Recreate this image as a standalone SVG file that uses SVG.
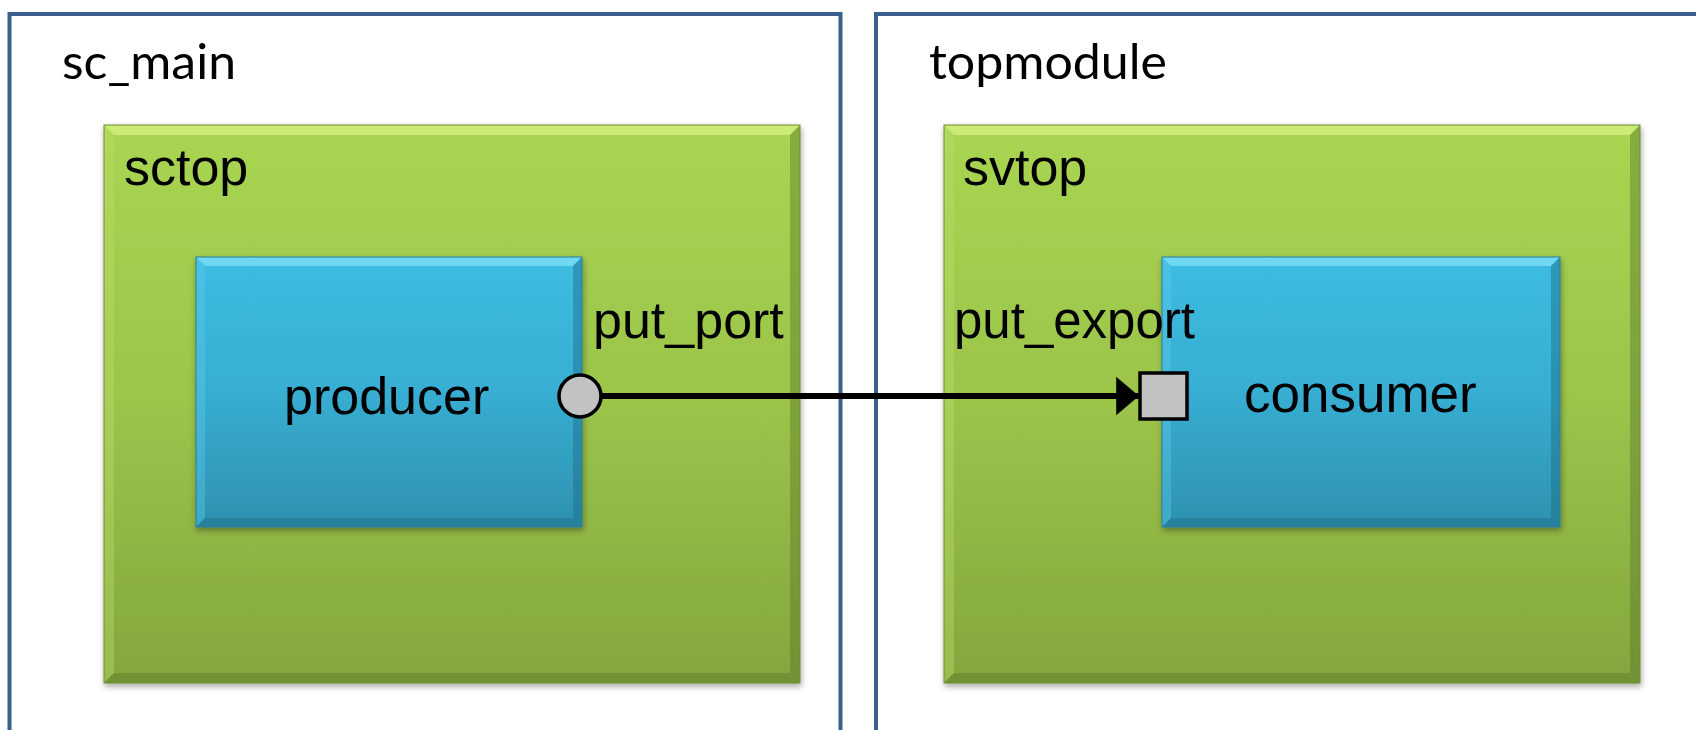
<svg xmlns="http://www.w3.org/2000/svg" width="1696" height="730" viewBox="0 0 1696 730">
  <style>
    .frame { fill: #ffffff; stroke: #3B5F8E; stroke-width: 4; }
    .title { font-family: Lato, "Open Sans", sans-serif; font-size: 48px; font-weight: 400; fill: #000; }
    .lbl { font-family: "Liberation Sans", Arial, sans-serif; font-size: 52px; fill: #000; }
    .green { fill: url(#gGreen); }
    .blue { fill: url(#gBlue); }
    .hiG { fill: #D2F07F; opacity: 0.8; }
    .loG { fill: #5E7A2A; opacity: 0.45; }
    .sideG { fill: #B9DE6A; opacity: 0.4; }
    .hiB { fill: #7BE0F7; opacity: 0.8; }
    .loB { fill: #1F6D86; opacity: 0.45; }
    .sideB { fill: #5CCBEA; opacity: 0.4; }
    .port { fill: #C2C2C2; stroke: #000; stroke-width: 3.5; }
    .wire { stroke: #000; stroke-width: 6; fill: none; }
  </style>
  <defs>
    <linearGradient id="gGreen" x1="0" y1="0" x2="0" y2="1">
      <stop offset="0" stop-color="#A9D552"/>
      <stop offset="0.5" stop-color="#9BC44A"/>
      <stop offset="1" stop-color="#83A63E"/>
    </linearGradient>
    <linearGradient id="gBlue" x1="0" y1="0" x2="0" y2="1">
      <stop offset="0" stop-color="#3DBCE2"/>
      <stop offset="0.5" stop-color="#37AED2"/>
      <stop offset="1" stop-color="#2E91AF"/>
    </linearGradient>
    <filter id="shadow" x="-5%" y="-5%" width="112%" height="115%">
      <feGaussianBlur in="SourceAlpha" stdDeviation="3"/>
      <feOffset dx="1" dy="3" result="b"/>
      <feComponentTransfer><feFuncA type="linear" slope="0.35"/></feComponentTransfer>
      <feMerge><feMergeNode/><feMergeNode in="SourceGraphic"/></feMerge>
    </filter>
    <marker id="arrow" markerWidth="4" markerHeight="7" refX="3.8" refY="3.2" orient="auto" markerUnits="strokeWidth">
      <path d="M0,0 L3.8,3.2 L0,6.4 Z" fill="#000"/>
    </marker>
  </defs>

  <!-- outer module frames -->
  <g id="sc_main">
    <rect class="frame" x="9.5" y="14" width="831" height="730"/>
    <text class="title" x="62" y="79" textLength="174" lengthAdjust="spacingAndGlyphs">sc_main</text>
  </g>
  <g id="topmodule">
    <rect class="frame" x="876" y="14" width="840" height="730"/>
    <text class="title" x="929" y="79" textLength="238" lengthAdjust="spacingAndGlyphs">topmodule</text>
  </g>

  <!-- bevelled green containers -->
  <g id="sctop" filter="url(#shadow)">
    <rect class="green" x="104" y="125" width="696" height="558"/>
    <polygon class="hiG" points="104,125 800,125 790,135 114,135"/>
    <polygon class="sideG" points="104,125 114,135 114,673 104,683"/>
    <polygon class="loG" points="800,125 800,683 790,673 790,135"/>
    <polygon class="loG" points="104,683 800,683 790,673 114,673"/>
    <rect x="104" y="125" width="696" height="558" fill="none" stroke="#6E8C33" stroke-width="1"/>
    <text class="lbl" x="124" y="185">sctop</text>
  </g>
  <g id="svtop" filter="url(#shadow)">
    <rect class="green" x="944" y="125" width="696" height="558"/>
    <polygon class="hiG" points="944,125 1640,125 1630,135 954,135"/>
    <polygon class="sideG" points="944,125 954,135 954,673 944,683"/>
    <polygon class="loG" points="1640,125 1640,683 1630,673 1630,135"/>
    <polygon class="loG" points="944,683 1640,683 1630,673 954,673"/>
    <rect x="944" y="125" width="696" height="558" fill="none" stroke="#6E8C33" stroke-width="1"/>
    <text class="lbl" x="963" y="185">svtop</text>
  </g>

  <!-- bevelled blue blocks -->
  <g id="producer" filter="url(#shadow)">
    <rect class="blue" x="196" y="257" width="386" height="270"/>
    <polygon class="hiB" points="196,257 582,257 573,266 205,266"/>
    <polygon class="sideB" points="196,257 205,266 205,518 196,527"/>
    <polygon class="loB" points="582,257 582,527 573,518 573,266"/>
    <polygon class="loB" points="196,527 582,527 573,518 205,518"/>
    <rect x="196" y="257" width="386" height="270" fill="none" stroke="#2A7E99" stroke-width="1"/>
    <text class="lbl" x="284" y="414">producer</text>
  </g>
  <g id="consumer" filter="url(#shadow)">
    <rect class="blue" x="1162" y="257" width="398" height="270"/>
    <polygon class="hiB" points="1162,257 1560,257 1551,266 1171,266"/>
    <polygon class="sideB" points="1162,257 1171,266 1171,518 1162,527"/>
    <polygon class="loB" points="1560,257 1560,527 1551,518 1551,266"/>
    <polygon class="loB" points="1162,527 1560,527 1551,518 1171,518"/>
    <rect x="1162" y="257" width="398" height="270" fill="none" stroke="#2A7E99" stroke-width="1"/>
    <text class="lbl" x="1244" y="412" style="font-size:53px">consumer</text>
  </g>

  <!-- port / export labels -->
  <g id="put_port_label">
    <text class="lbl" x="593" y="338">put_port</text>
  </g>
  <g id="put_export_label">
    <text class="lbl" x="954" y="338" style="font-size:51px">put_export</text>
  </g>

  <!-- connection -->
  <g id="connectors">
    <line class="wire" x1="602" y1="396" x2="1139" y2="396" marker-end="url(#arrow)"/>
  </g>

  <!-- port symbols -->
  <g id="put_port">
    <circle class="port" cx="580" cy="396" r="21"/>
  </g>
  <g id="put_export">
    <rect class="port" x="1140" y="373" width="47" height="46"/>
  </g>
</svg>
